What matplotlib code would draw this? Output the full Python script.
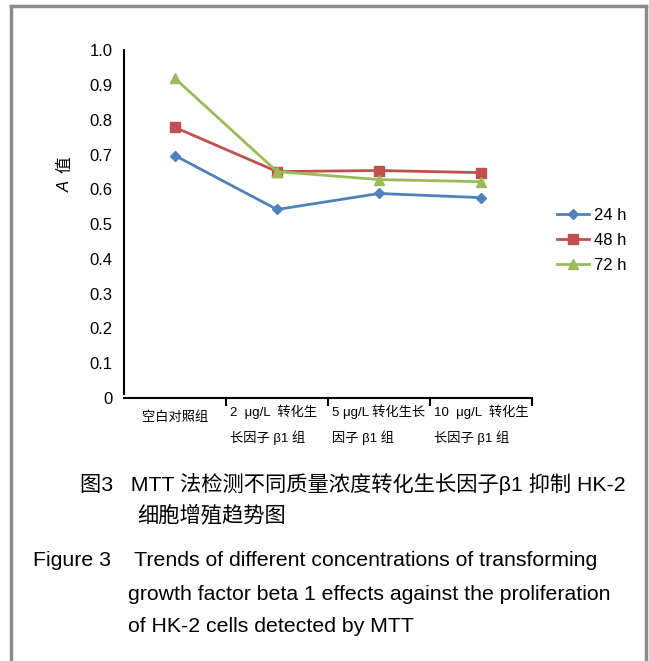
import matplotlib
matplotlib.use("Agg")
from matplotlib import pyplot as plt
import matplotlib.transforms as mtransforms

plt.rcParams['font.family'] = ['Liberation Sans', 'Noto Sans CJK SC']

# data
groups = ["空白对照组", "2  μg/L  转化生\n长因子 β1 组", "5 μg/L 转化生长\n因子 β1 组", "10  μg/L  转化生\n长因子 β1 组"]
a_24h = [0.697, 0.542, 0.588, 0.576]
a_48h = [0.778, 0.651, 0.654, 0.648]
a_72h = [0.919, 0.651, 0.628, 0.622]
series_names = ["24 h", "48 h", "72 h"]

fig = plt.figure(figsize=(6.49, 6.61), dpi=100)
ax = fig.add_axes([0.191, 0.398, 0.629, 0.526])

x = list(range(len(groups)))
ax.plot(x, a_24h, color="#4F81BD", marker="D", markersize=5, lw=2, label=series_names[0])
ax.plot(x, a_48h, color="#C0504D", marker="s", markersize=7, lw=2, label=series_names[1])
ax.plot(x, a_72h, color="#9BBB59", marker="^", markersize=7, lw=2, label=series_names[2])

ax.set_xlim(-0.5, 3.5)
ax.set_ylim(0, 1.0)
ax.set_yticks([i / 10 for i in range(11)])
ax.set_yticklabels(["0"] + ["%.1f" % (i / 10) for i in range(1, 11)], fontsize=12)
ax.tick_params(axis="y", length=0, pad=8)
ax.set_xticks([0.5, 1.5, 2.5, 3.5])
ax.set_xticklabels([])
ax.tick_params(axis="x", direction="out", length=6, width=1.5)
for s in ["top", "right"]:
    ax.spines[s].set_visible(False)
ax.spines["left"].set_linewidth(1.5)
ax.spines["bottom"].set_linewidth(1.5)
ax.spines["left"].set_bounds(0.01, 1.0)

# y label: italic A plus 值, placed like the original
fig.text(65 / 649, 1 - 186 / 661, "A", rotation=90, style="italic", fontsize=12,
         ha="center", va="center")
fig.text(65 / 649, 1 - 165 / 661, "值", rotation=90, fontsize=12, ha="center", va="center")

# category labels under the axis
trans = mtransforms.blended_transform_factory(ax.transData, ax.transAxes)
ax.text(0, -0.058, groups[0], transform=trans, ha="center", va="center", fontsize=9.5)
for i, g in enumerate(groups[1:], start=1):
    l1, l2 = g.split("\n")
    ax.text(i - 0.46, -0.04, l1, transform=trans, ha="left", va="center", fontsize=9.5)
    ax.text(i - 0.46, -0.113, l2, transform=trans, ha="left", va="center", fontsize=9.5)

ax.legend(loc="center left", bbox_to_anchor=(1.025, 0.454), frameon=False, fontsize=12,
          handlelength=1.9, handletextpad=0.3, labelspacing=0.6)

# captions
fig.text(80 / 649, 1 - 484 / 661, "图3   MTT 法检测不同质量浓度转化生长因子β1 抑制 HK-2",
         fontsize=15.3, ha="left", va="center")
fig.text(137 / 649, 1 - 515 / 661, "细胞增殖趋势图", fontsize=15.3, ha="left", va="center")
fig.text(33 / 649, 1 - 561 / 661, "Figure 3    Trends of different concentrations of transforming",
         fontsize=15.3, ha="left", va="center")
fig.text(128 / 649, 1 - 594 / 661, "growth factor beta 1 effects against the proliferation",
         fontsize=15.3, ha="left", va="center")
fig.text(128 / 649, 1 - 627 / 661, "of HK-2 cells detected by MTT",
         fontsize=15.3, ha="left", va="center")

# frame around the figure (open at the bottom)
frame = "#8c8c8c"
fig.add_artist(plt.Line2D([11 / 649, 11 / 649], [0, 1 - 6 / 661], color=frame, lw=2.5,
                          transform=fig.transFigure))
fig.add_artist(plt.Line2D([11 / 649, 646 / 649], [1 - 6 / 661, 1 - 6 / 661], color=frame, lw=2.5,
                          transform=fig.transFigure))
fig.add_artist(plt.Line2D([646 / 649, 646 / 649], [0, 1 - 6 / 661], color=frame, lw=2.5,
                          transform=fig.transFigure))

fig.savefig("out.png", dpi=100)
